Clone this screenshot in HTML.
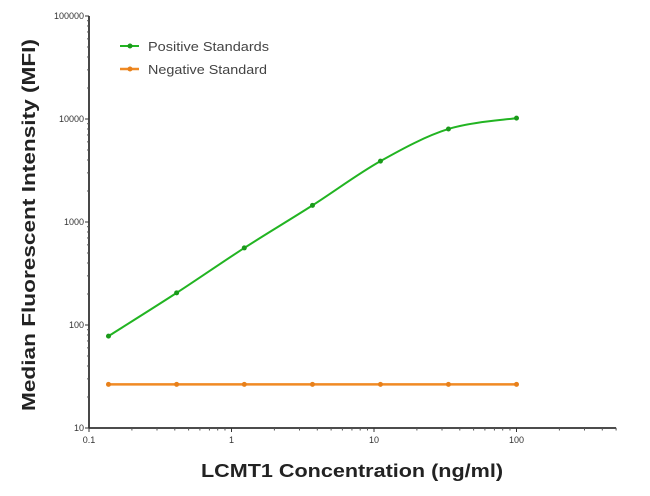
<!DOCTYPE html>
<html><head><meta charset="utf-8"><style>
body{margin:0;background:#fff;}
svg{display:block;font-family:"Liberation Sans",sans-serif;}
</style></head><body>
<svg id="chart" width="650" height="496" viewBox="0 0 650 496" xmlns="http://www.w3.org/2000/svg">
<g id="axes"></g>
<g id="series"></g>
<text transform="translate(35,225) rotate(-90)" text-anchor="middle" font-size="18" font-weight="bold" fill="#222" textLength="372" lengthAdjust="spacingAndGlyphs">Median  Fluorescent Intensity  (MFI)</text>
<text x="352" y="477" text-anchor="middle" font-size="18" font-weight="bold" fill="#222" textLength="302" lengthAdjust="spacingAndGlyphs">LCMT1 Concentration (ng/ml)</text>
<g>
<g>
<line x1="120" y1="46" x2="139" y2="46" stroke="#22b422" stroke-width="2"/><circle cx="130" cy="46" r="2.5" fill="#1a9a1a"/>
<text x="148" y="51" font-size="13" fill="#444" textLength="121" lengthAdjust="spacingAndGlyphs">Positive Standards</text></g>
<g>
<line x1="120" y1="69" x2="139" y2="69" stroke="#f08a24" stroke-width="2.5"/><circle cx="130" cy="69" r="2.5" fill="#e8801a"/>
<text x="148" y="74" font-size="13" fill="#444" textLength="119" lengthAdjust="spacingAndGlyphs">Negative Standard</text></g>
</g>
</svg>
<script>
const concentrations=[0.137,0.412,1.23,3.70,11.1,33.3,100];
const positiveValues=[78,205,560,1450,3900,8000,10200];
const negativeValues=[26.5,26.5,26.5,26.5,26.5,26.5,26.5];
const xTickLabels=["0.1","1","10","100"];
const yTickLabels=["10","100","1000","10000","100000"];
const NS="http://www.w3.org/2000/svg";
const X0=89,XD=142.5,Y0=428,YD=103;
function xs(v){return X0+Math.log10(v/0.1)*XD;}
function ys(v){return Y0-Math.log10(v/10)*YD;}
function mk(tag,attrs,parent){const e=document.createElementNS(NS,tag);for(const k in attrs)e.setAttribute(k,attrs[k]);parent.appendChild(e);return e;}
const axes=document.getElementById('axes');
let a=mk('line',{x1:X0,y1:ys(100000),x2:X0,y2:Y0,stroke:'#333','stroke-width':1.8},axes);


a=mk('line',{x1:X0,y1:Y0,x2:xs(500),y2:Y0,stroke:'#333','stroke-width':1.8},axes);


yTickLabels.forEach((lab,i)=>{const v=Math.pow(10,i+1);const y=ys(v);
 mk('line',{x1:X0-4,y1:y,x2:X0,y2:y,stroke:'#333','stroke-width':1},axes);
 const t=mk('text',{x:X0-5,y:y+3,'text-anchor':'end','font-size':9,fill:'#333'},axes);t.textContent=lab;
 
 
 if(i<4)for(let m=2;m<10;m++){const yy=ys(v*m);mk('line',{x1:X0-2,y1:yy,x2:X0,y2:yy,stroke:'#555','stroke-width':1},axes);}
});
xTickLabels.forEach((lab,i)=>{const v=0.1*Math.pow(10,i);const x=xs(v);
 mk('line',{x1:x,y1:Y0,x2:x,y2:Y0+4,stroke:'#333','stroke-width':1},axes);
 const t=mk('text',{x:x,y:Y0+15,'text-anchor':'middle','font-size':9,fill:'#333'},axes);t.textContent=lab;
 
 
 for(let m=2;m<10;m++){const vv=v*m;if(vv>500)break;const xx=xs(vv);mk('line',{x1:xx,y1:Y0,x2:xx,y2:Y0+2.5,stroke:'#555','stroke-width':1},axes);}
});
const ser=document.getElementById('series');
function smoothPath(px,py){let d='M'+px[0]+','+py[0];for(let i=0;i<px.length-1;i++){const p0=i>0?i-1:i,p3=i+2<px.length?i+2:i+1;
 const c1x=px[i]+(px[i+1]-px[p0])/6,c1y=py[i]+(py[i+1]-py[p0])/6,c2x=px[i+1]-(px[p3]-px[i])/6,c2y=py[i+1]-(py[p3]-py[i])/6;
 d+=' C'+c1x+','+c1y+' '+c2x+','+c2y+' '+px[i+1]+','+py[i+1];}return d;}
function drawSeries(vals,color,dot,name,w){const px=concentrations.map(xs),py=vals.map(ys);
 const p=mk('path',{d:smoothPath(px,py),fill:'none',stroke:color,'stroke-width':w},ser);
 
 
 px.forEach((x,i)=>{const c=mk('circle',{cx:x,cy:py[i],r:2.5,fill:dot},ser);
  
  });}
drawSeries(negativeValues,'#f08a24','#e8801a','negative-standard',2.5);
drawSeries(positiveValues,'#22b422','#1a9a1a','positive-standards',2);
</script>
</body></html>
